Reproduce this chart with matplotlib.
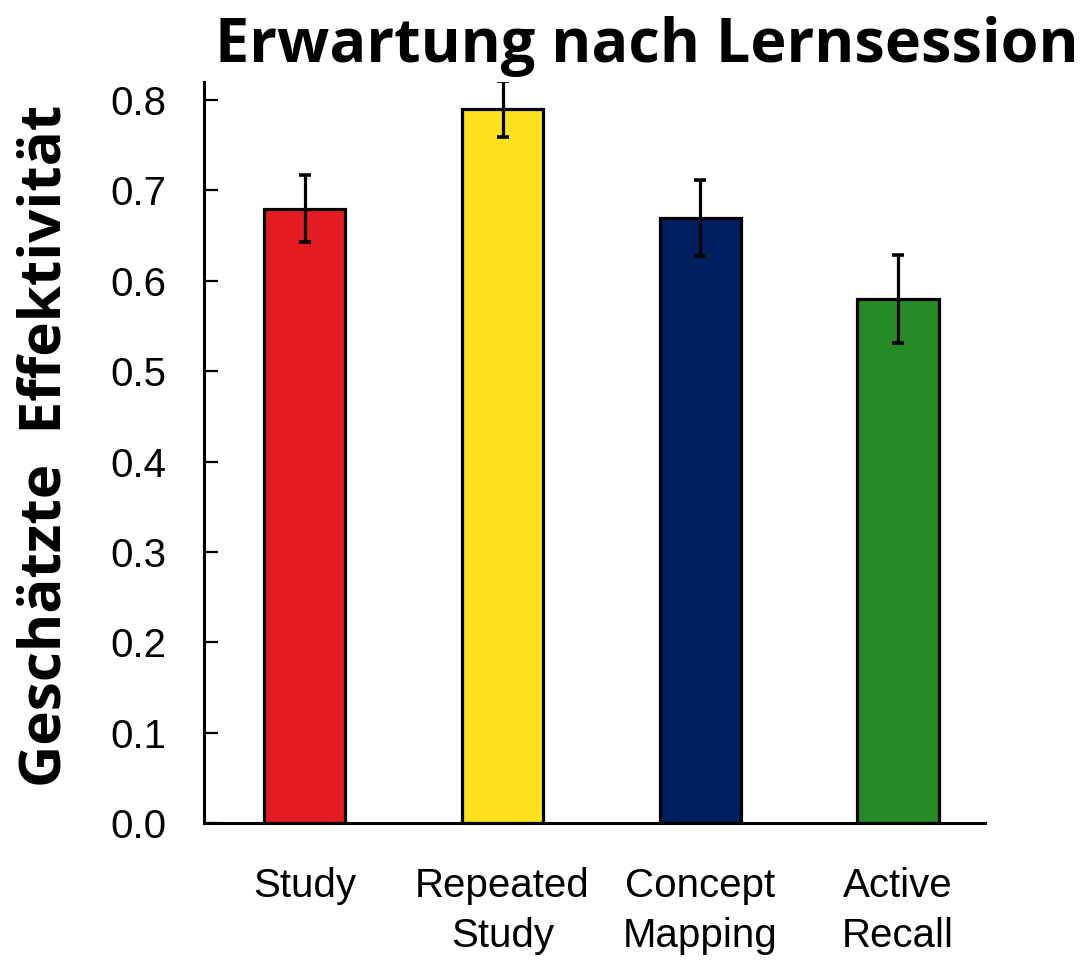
import matplotlib
matplotlib.use("Agg")
import matplotlib.pyplot as plt

categories = ["Study", "Repeated\nStudy", "Concept\nMapping", "Active\nRecall"]
values = [0.68, 0.79, 0.67, 0.58]
errors = [0.037, 0.031, 0.042, 0.049]
colors = ["#E31B23", "#FFE11E", "#001F5F", "#268A26"]
yticks = [0.0, 0.1, 0.2, 0.3, 0.4, 0.5, 0.6, 0.7, 0.8]
title = "Erwartung nach Lernsession"
ylabel = "Geschätzte  Effektivität"

fig = plt.figure(figsize=(10.81, 9.6), dpi=100)
ax = fig.add_axes([204/1081, 1-823/960, (985-204)/1081, (823-82)/960])

x = list(range(len(categories)))
ax.bar(x, values, width=0.41, color=colors, edgecolor="black", linewidth=2.3, zorder=2)
ax.errorbar(x, values, yerr=errors, fmt="none", ecolor="black", elinewidth=2.3,
            capsize=4, capthick=2.6, zorder=3)

ax.set_xlim(-0.51, 3.44)
ax.set_ylim(0, 0.82)
ax.set_yticks(yticks)
ax.set_yticklabels([f"{t:.1f}" for t in yticks], fontsize=29, family="Liberation Sans")
ax.set_xticks(x)
ax.set_xticklabels(categories, fontsize=29, family="Liberation Sans", linespacing=1.38)
ax.tick_params(axis="y", direction="in", length=10, width=1.6, pad=27)
ax.tick_params(axis="x", length=0, pad=32)

for s in ["top", "right"]:
    ax.spines[s].set_visible(False)
for s in ["left", "bottom"]:
    ax.spines[s].set_linewidth(2.2)

fig.text(0.598, 0.983, title, ha="center", va="top", fontsize=44,
         fontweight="bold", family="Open Sans")
fig.text(0.042, 0.536, ylabel, ha="center", va="center", rotation=90,
         fontsize=42, fontweight="bold", family="Open Sans")

fig.savefig("out.png", dpi=100)
